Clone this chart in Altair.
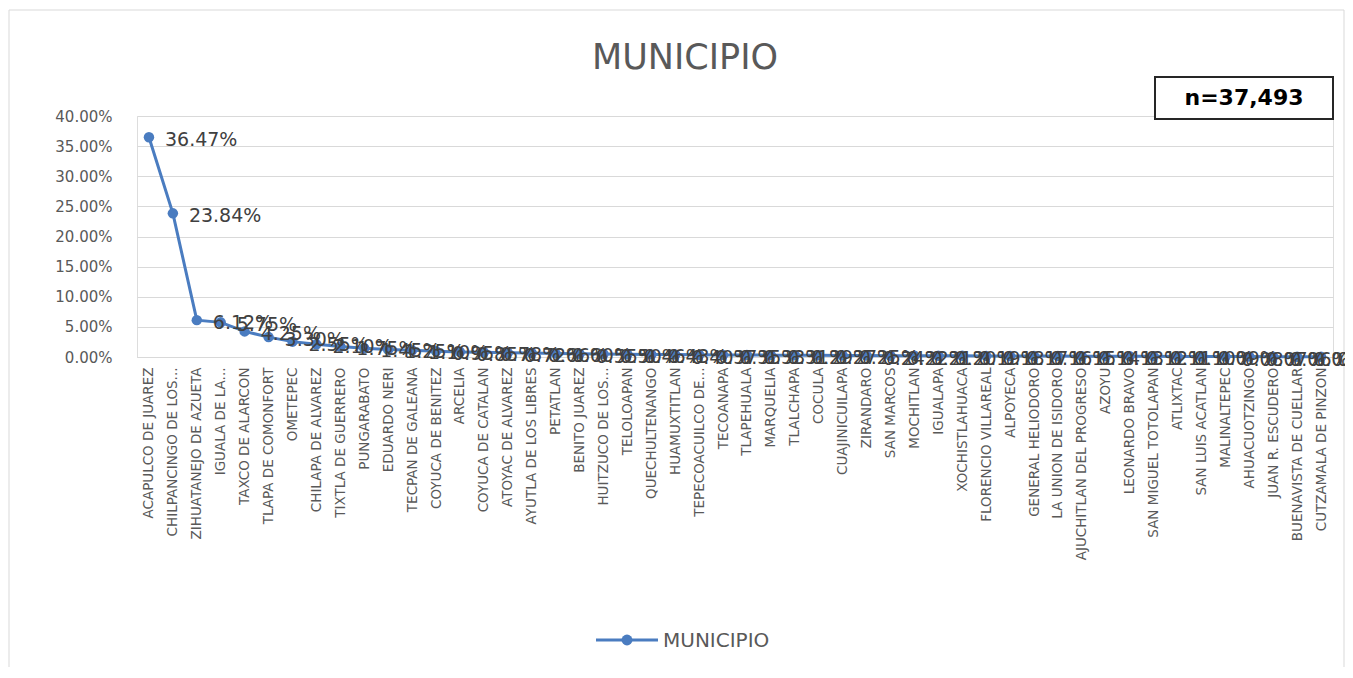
import altair as alt
import pandas as pd

municipios = [
    "ACAPULCO DE JUAREZ", "CHILPANCINGO DE LOS...", "ZIHUATANEJO DE AZUETA", "IGUALA DE LA...",
    "TAXCO DE ALARCON", "TLAPA DE COMONFORT", "OMETEPEC", "CHILAPA DE ALVAREZ",
    "TIXTLA DE GUERRERO", "PUNGARABATO", "EDUARDO NERI", "TECPAN DE GALEANA",
    "COYUCA DE BENITEZ", "ARCELIA", "COYUCA DE CATALAN", "ATOYAC DE ALVAREZ",
    "AYUTLA DE LOS LIBRES", "PETATLAN", "BENITO JUAREZ", "HUITZUCO DE LOS...",
    "TELOLOAPAN", "QUECHULTENANGO", "HUAMUXTITLAN", "TEPECOACUILCO DE...",
    "TECOANAPA", "TLAPEHUALA", "MARQUELIA", "TLALCHAPA", "COCULA", "CUAJINICUILAPA",
    "ZIRANDARO", "SAN MARCOS", "MOCHITLAN", "IGUALAPA", "XOCHISTLAHUACA",
    "FLORENCIO VILLAREAL", "ALPOYECA", "GENERAL HELIODORO", "LA UNION DE ISIDORO",
    "AJUCHITLAN DEL PROGRESO", "AZOYU", "LEONARDO BRAVO", "SAN MIGUEL TOTOLAPAN",
    "ATLIXTAC", "SAN LUIS ACATLAN", "MALINALTEPEC", "AHUACUOTZINGO",
    "JUAN R. ESCUDERO", "BUENAVISTA DE CUELLAR", "CUTZAMALA DE PINZON",
]

porcentajes = [
    36.47, 23.84, 6.12, 5.75, 4.25, 3.30, 2.55, 2.10, 1.75, 1.45,
    1.25, 1.10, 0.95, 0.85, 0.78, 0.72, 0.66, 0.60, 0.55, 0.50,
    0.46, 0.43, 0.40, 0.37, 0.35, 0.33, 0.31, 0.29, 0.27, 0.25,
    0.24, 0.22, 0.21, 0.20, 0.19, 0.18, 0.17, 0.16, 0.15, 0.14,
    0.13, 0.12, 0.11, 0.10, 0.09, 0.08, 0.07, 0.06, 0.05, 0.04,
]

y_ticks = [0, 0.05, 0.10, 0.15, 0.20, 0.25, 0.30, 0.35, 0.40]
titulo = "MUNICIPIO"
n_text = "n=37,493"
serie = "MUNICIPIO"

df = pd.DataFrame({"municipio": municipios, "pct": [p / 100 for p in porcentajes]})
dummy = pd.DataFrame({"k": [0]})

BLUE = "#4A7CC0"
FONT = "DejaVu Sans"

x_enc = alt.X(
    "municipio:N", sort=None, title=None,
    scale=alt.Scale(paddingInner=0, paddingOuter=0),
    axis=alt.Axis(labelAngle=-90, labelFont=FONT, labelFontSize=13.5, labelColor="#595959",
                  labelPadding=10, labelLimit=400, labelOverlap=False, ticks=False,
                  domainColor="#d9d9d9", grid=False),
)
y_enc = alt.Y(
    "pct:Q", title=None,
    scale=alt.Scale(domain=[0, 0.4], nice=False),
    axis=alt.Axis(values=y_ticks, format=".2%", labelFont=FONT, labelFontSize=15,
                  labelColor="#595959", labelPadding=25, labelOverlap=False, ticks=False,
                  domain=False, gridColor="#d9d9d9", gridWidth=1),
)

border = alt.Chart(dummy).mark_rect(fillOpacity=0, stroke="#d9d9d9", strokeWidth=1).encode(
    x=alt.value(-128), x2=alt.value(1207), y=alt.value(-106), y2=alt.value(552)
)

line = alt.Chart(df).mark_line(color=BLUE, strokeWidth=3).encode(x=x_enc, y=y_enc)
points = alt.Chart(df).mark_point(filled=True, color=BLUE, size=110, opacity=1).encode(
    x=x_enc, y=y_enc
)
labels = alt.Chart(df).mark_text(
    align="left", baseline="middle", dx=16, dy=3, font=FONT, fontSize=19, color="#404040"
).encode(
    x=x_enc, y=y_enc, text=alt.Text("pct:Q", format=".2%")
)

title_mark = alt.Chart(dummy).mark_text(
    font=FONT, fontSize=35, color="#595959", align="center", baseline="alphabetic"
).encode(x=alt.value(548), y=alt.value(-47), text=alt.value(titulo))

nbox = alt.Chart(dummy).mark_rect(fill="white", stroke="#262626", strokeWidth=2).encode(
    x=alt.value(1018), x2=alt.value(1196), y=alt.value(-39), y2=alt.value(3)
)
ntext = alt.Chart(dummy).mark_text(
    font=FONT, fontSize=22, fontWeight="bold", color="#000000", align="center", baseline="middle"
).encode(x=alt.value(1107), y=alt.value(-18), text=alt.value(n_text))

leg_line = alt.Chart(dummy).mark_rule(color=BLUE, strokeWidth=3).encode(
    x=alt.value(459), x2=alt.value(521), y=alt.value(524)
)
leg_pt = alt.Chart(dummy).mark_point(filled=True, color=BLUE, size=120, opacity=1).encode(
    x=alt.value(490), y=alt.value(524)
)
leg_txt = alt.Chart(dummy).mark_text(
    font=FONT, fontSize=20, color="#595959", align="left", baseline="middle"
).encode(x=alt.value(526), y=alt.value(525), text=alt.value(serie))

chart = alt.layer(
    border, line, points, labels, title_mark, nbox, ntext, leg_line, leg_pt, leg_txt
).properties(
    width=1196, height=241,
    autosize=alt.AutoSizeParams(type="none"),
    padding={"left": 129, "top": 108, "right": 12, "bottom": 310},
).configure_view(stroke=None).configure(background="white")

chart.save("out.html", embed_options={"renderer": "svg", "actions": False})
